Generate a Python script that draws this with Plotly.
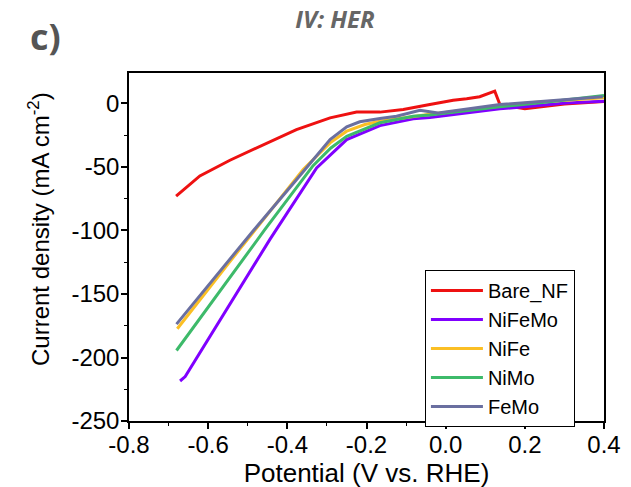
import plotly.graph_objects as go

# Data
bare_v = [-0.681, -0.621, -0.545, -0.461, -0.377, -0.292, -0.225, -0.166, -0.107, -0.04, -0.015, 0.019, 0.053, 0.086, 0.124, 0.137, 0.2, 0.3, 0.4]
bare_j = [-73, -57, -44.7, -32.3, -20.5, -11.3, -6.8, -6.8, -4.7, -0.8, 0.5, 2.6, 3.7, 5.3, 9.7, -0.8, -4.2, -0.5, 1.5]

nifemo_v = [-0.671, -0.658, -0.444, -0.326, -0.25, -0.166, -0.082, -0.04, 0.137, 0.22, 0.305, 0.4]
nifemo_j = [-218.5, -215, -107, -50.7, -28.4, -17.4, -12, -11, -4.2, -2, 0.3, 1.8]

nife_v = [-0.678, -0.549, -0.36, -0.292, -0.25, -0.204, -0.166, -0.082, -0.04, 0.137, 0.22, 0.4]
nife_j = [-177.4, -126, -52, -31, -21.8, -16.6, -14, -10, -8.5, -2.0, 0.8, 4.5]

nimo_v = [-0.680, -0.457, -0.335, -0.29, -0.25, -0.166, -0.082, -0.04, 0.137, 0.263, 0.4]
nimo_j = [-194.5, -99.4, -49, -35, -25.8, -15.2, -10, -9, -2.6, 1.3, 6.3]

femo_v = [-0.680, -0.484, -0.377, -0.292, -0.25, -0.217, -0.166, -0.124, -0.065, -0.019, 0.137, 0.397]
femo_j = [-173.7, -99.4, -60, -28.4, -18.4, -14.4, -11.8, -10, -5.3, -7.4, -0.8, 5.3]

names = ["Bare_NF", "NiFeMo", "NiFe", "NiMo", "FeMo"]
colors = ["#ee1111", "#8000ff", "#fbbf24", "#3dba6a", "#6a6fa0"]
xs = [bare_v, nifemo_v, nife_v, nimo_v, femo_v]
ys = [bare_j, nifemo_j, nife_j, nimo_j, femo_j]

x_tickvals = [-0.8, -0.6, -0.4, -0.2, 0.0, 0.2, 0.4]
x_ticktext = ["-0.8", "-0.6", "-0.4", "-0.2", "0.0", "0.2", "0.4"]
y_tickvals = [-250, -200, -150, -100, -50, 0]
y_ticktext = ["-250", "-200", "-150", "-100", "-50", "0"]

fig = go.Figure()
for name, v, j, c in zip(names, xs, ys, colors):
    fig.add_trace(go.Scatter(x=v, y=j, mode="lines", name=name,
                             line=dict(color=c, width=3)))

FONT = "Liberation Sans, Arial"
axis_common = dict(
    showline=True, linecolor="black", linewidth=1.5, mirror=True,
    ticks="outside", ticklen=6, tickwidth=1.5, tickcolor="black",
    showgrid=False, zeroline=False, automargin=False,
    tickfont=dict(family=FONT, size=24, color="black"),
)

fig.update_xaxes(range=[-0.8, 0.4], tickvals=x_tickvals, ticktext=x_ticktext,
                 ticklabelstandoff=-5,
                 minor=dict(ticks="outside", dtick=0.1, tick0=-0.8, ticklen=3, tickcolor="black", tickwidth=1.2),
                 title=dict(text="Potential (V vs. RHE)", standoff=0,
                            font=dict(family=FONT, size=26, color="black")),
                 **axis_common)
fig.update_yaxes(range=[-250, 24], tickvals=y_tickvals, ticktext=y_ticktext,
                 ticklabelstandoff=-3,
                 minor=dict(ticks="outside", dtick=25, tick0=0, ticklen=3, tickcolor="black", tickwidth=1.2),
                 **axis_common)

# page body has an 8px margin; plot area in page pixels: x 129..604, y 73..421
fig.update_layout(
    width=631, height=487,
    margin=dict(l=121, r=35, t=65, b=74),
    plot_bgcolor="white", paper_bgcolor="white",
    showlegend=True,
    legend=dict(x=0.623, y=0.434, xanchor="left", yanchor="top",
                bgcolor="white", bordercolor="black", borderwidth=1,
                font=dict(family=FONT, size=20, color="black"),
                itemwidth=52),
    title=dict(text="<b><i>IV: HER</i></b>", x=327 / 631, xanchor="center",
               y=1 - 12 / 487, yanchor="middle",
               font=dict(family="Open Sans", size=24, color="#666666")),
)

def paper(X, Y):
    return (X - 129) / 475, (421 - Y) / 348

tx, ty = paper(39, 229)
fig.add_annotation(text="Current density (mA cm<sup>-2</sup>)", x=tx, y=ty,
                   xref="paper", yref="paper", textangle=-90,
                   xanchor="center", yanchor="middle", showarrow=False,
                   font=dict(family=FONT, size=24, color="black"))

cx, cy = paper(45, 36)
fig.add_annotation(text="<b>c)</b>", x=cx, y=cy, xref="paper", yref="paper",
                   xanchor="center", yanchor="middle", showarrow=False,
                   font=dict(family="Open Sans", size=36, color="#555555"))

fig.write_html("out.html")
